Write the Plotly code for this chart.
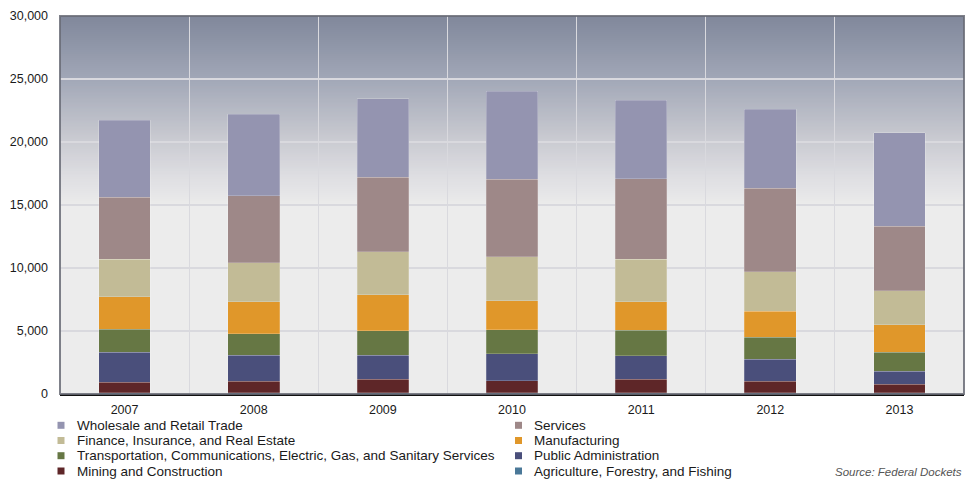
import plotly.graph_objects as go

years = ["2007", "2008", "2009", "2010", "2011", "2012", "2013"]

agriculture = [100, 100, 100, 100, 100, 100, 100]
mining = [850, 900, 1090, 950, 1060, 900, 690]
public_admin = [2380, 2090, 1900, 2140, 1870, 1770, 1000]
transportation = [1820, 1690, 1950, 1910, 2040, 1720, 1540]
manufacturing = [2580, 2560, 2830, 2320, 2240, 2060, 2160]
finance = [2970, 3090, 3410, 3460, 3390, 3140, 2700]
services = [4910, 5310, 5940, 6160, 6380, 6630, 5120]
wholesale = [6120, 6470, 6230, 6990, 6240, 6260, 7420]

series = [
    ("Agriculture, Forestry, and Fishing", agriculture, "#4a7898"),
    ("Mining and Construction", mining, "#5e2628"),
    ("Public Administration", public_admin, "#4a4f7b"),
    ("Transportation, Communications, Electric, Gas, and Sanitary Services", transportation, "#667744"),
    ("Manufacturing", manufacturing, "#e0972a"),
    ("Finance, Insurance, and Real Estate", finance, "#c2bb96"),
    ("Services", services, "#9e8888"),
    ("Wholesale and Retail Trade", wholesale, "#9494b0"),
]

# legend order (row-wise, two columns)
legend_order = [
    "Wholesale and Retail Trade", "Services",
    "Finance, Insurance, and Real Estate", "Manufacturing",
    "Transportation, Communications, Electric, Gas, and Sanitary Services", "Public Administration",
    "Mining and Construction", "Agriculture, Forestry, and Fishing",
]

fig = go.Figure()
for name, vals, col in series:
    fig.add_trace(go.Bar(
        x=years, y=vals, name=name, showlegend=False,
        marker=dict(color=col, line=dict(color="rgba(255,255,255,0.25)", width=0.8)),
    ))

W, H = 970, 481
ml, mr, mt, mb = 60, 6, 16, 87
pw, ph = W - ml - mr, H - mt - mb

def px_x(x):
    return (x - ml) / pw

def px_y(y):
    return (H - mb - y) / ph

# background gradient (decoration)
stops = [
    (0.50, (235, 235, 235)),
    (0.575, (222, 222, 226)),
    (0.68, (200, 201, 208)),
    (0.84, (160, 166, 182)),
    (1.00, (128, 135, 155)),
]

def grad(t):
    if t <= stops[0][0]:
        return stops[0][1]
    for (a, ca), (b, cb) in zip(stops[:-1], stops[1:]):
        if a <= t <= b:
            u = (t - a) / (b - a)
            return tuple(int(round(ca[k] + (cb[k] - ca[k]) * u)) for k in range(3))
    return stops[-1][1]

shapes = []
n = 95
g0 = 0.5
step = (1 - g0) / n
for i in range(n):
    a = g0 + step * i
    b = min(1.0, a + step * 1.6)
    c = grad(a + step / 2)
    shapes.append(dict(type="rect", xref="x domain", yref="y domain", x0=0, x1=1, y0=a, y1=b,
                       fillcolor="rgb(%d,%d,%d)" % c, line=dict(width=0), layer="below"))
shapes.append(dict(type="rect", xref="x domain", yref="y domain", x0=0, x1=1, y0=0, y1=1,
                   fillcolor="rgba(0,0,0,0)", line=dict(color="rgba(105,107,118,0.85)", width=2), layer="above"))

annotations = []
col_x = [(61, 75), (518.5, 532)]
row_y = [425.3, 440.5, 455.7, 471.0]
color_of = {name: col for name, _, col in series}
for idx, name in enumerate(legend_order):
    r, c = divmod(idx, 2)
    mx, tx = col_x[c]
    yy = row_y[r]
    shapes.append(dict(type="rect", xref="paper", yref="paper",
                       x0=px_x(mx - 3.5), x1=px_x(mx + 3.5), y0=px_y(yy + 3.5), y1=px_y(yy - 3.5),
                       fillcolor=color_of[name], line=dict(width=0), layer="above"))
    annotations.append(dict(text=name, xref="paper", yref="paper", x=px_x(tx), y=px_y(yy),
                            xanchor="left", yanchor="middle", showarrow=False,
                            font=dict(size=13.5, color="#1a1a1a")))

annotations.append(dict(
    text="<i>Source: Federal Dockets</i>", xref="paper", yref="paper",
    x=px_x(964), y=px_y(471.5), xanchor="right", yanchor="middle", showarrow=False,
    font=dict(size=11.5, color="#555"),
))

fig.update_layout(
    width=W, height=H,
    barmode="stack", bargap=0.6,
    paper_bgcolor="white", plot_bgcolor="#ececec",
    margin=dict(l=ml, r=mr, t=mt, b=mb),
    font=dict(family="Liberation Sans, Arial, sans-serif", size=12.5, color="#1a1a1a"),
    shapes=shapes,
    showlegend=False,
    annotations=annotations,
)
fig.update_xaxes(
    tickson="boundaries", showgrid=True, gridcolor="#d9d9de", gridwidth=1,
    showline=True, linecolor="#111", linewidth=2, ticks="",
    tickfont=dict(size=12.5, color="#1a1a1a"), ticklabelstandoff=3,
)
fig.update_yaxes(
    range=[0, 30000], dtick=5000, tickformat=",d",
    showgrid=True, gridcolor="#d9d9de", gridwidth=2, zeroline=False,
    ticks="", tickfont=dict(size=12.5, color="#1a1a1a"), ticklabelstandoff=11,
)

fig.write_html("out.html", config={"displayModeBar": False},
               post_script="document.body.style.margin='0';")
